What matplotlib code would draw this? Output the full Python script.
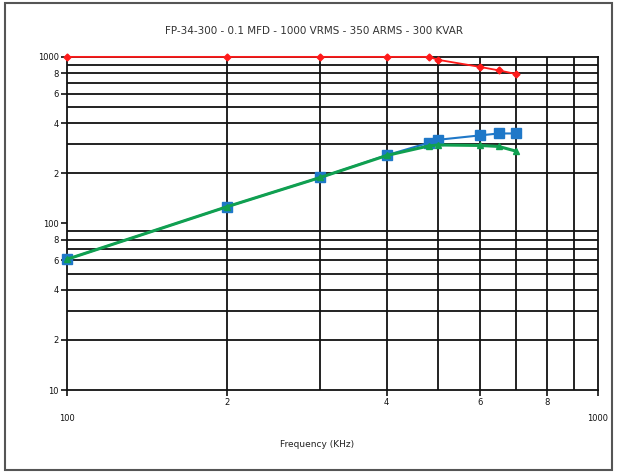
import matplotlib.pyplot as plt
from matplotlib.patches import Rectangle

# data (frequency in KHz)
freq = [100, 200, 300, 400, 480, 500, 600, 650, 700]
red_vals = [1000, 1000, 1000, 1000, 1000, 960, 870, 830, 790]
blue_vals = [61, 126, 189, 257, 305, 318, 338, 347, 347]
green_vals = [61, 126, 189, 256, 292, 296, 294, 290, 272]

title = 'FP-34-300 - 0.1 MFD - 1000 VRMS - 350 ARMS - 300 KVAR'
xlabel = 'Frequency (KHz)'

# gridlines and labelled ticks
x_grid = [200, 300, 400, 500, 600, 700, 800, 900]
y_grid = [20, 30, 40, 50, 60, 70, 80, 90, 200, 300, 400, 500, 600, 700, 800, 900]
y_ticks = [10, 20, 40, 60, 80, 100, 200, 400, 600, 800, 1000]
y_ticklabels = ['10', '2', '4', '6', '8', '100', '2', '4', '6', '8', '1000']
x_major = [100, 1000]
x_major_labels = ['100', '1000']
x_minor = [200, 400, 600, 800]
x_minor_labels = ['2', '4', '6', '8']

fig = plt.figure(figsize=(6.21, 4.74), dpi=100)
ax = fig.add_axes([0.108, 0.177, 0.855, 0.703])
ax.set_xscale('log')
ax.set_yscale('log')
ax.set_xlim(100, 1000)
ax.set_ylim(10, 1000)

for y in y_grid:
    ax.axhline(y, color='#111111', lw=1.3, zorder=1)
for x in x_grid:
    ax.axvline(x, color='#111111', lw=1.3, zorder=1)

ax.plot(freq, red_vals, color='#ff1a1a', lw=1.3, marker='D', ms=3.5, zorder=4, clip_on=False)
ax.plot(freq, blue_vals, color='#1f78c8', lw=1.5, marker='s', ms=7, zorder=3, clip_on=False)
ax.plot(freq, green_vals, color='#10a050', lw=2.2, marker='^', ms=4, zorder=5, clip_on=False)

for s in ax.spines.values():
    s.set_color('#111111')
    s.set_linewidth(1.3)

ax.yaxis.set_major_locator(plt.FixedLocator(y_ticks))
ax.yaxis.set_major_formatter(plt.FixedFormatter(y_ticklabels))
ax.yaxis.set_minor_locator(plt.NullLocator())
ax.xaxis.set_major_locator(plt.FixedLocator(x_major))
ax.xaxis.set_major_formatter(plt.FixedFormatter(x_major_labels))
ax.xaxis.set_minor_locator(plt.FixedLocator(x_minor))
ax.xaxis.set_minor_formatter(plt.FixedFormatter(x_minor_labels))

ax.tick_params(axis='y', which='major', length=4, width=1.2, labelsize=6, pad=2, colors='#111111')
ax.tick_params(axis='x', which='major', length=4, width=1.2, labelsize=6, pad=13, colors='#111111')
ax.tick_params(axis='x', which='minor', length=4, width=1.2, labelsize=6, pad=2, colors='#111111')

ax.set_xlabel(xlabel, fontsize=6.5, color='#222222')
ax.xaxis.set_label_coords(0.47, -0.15)
fig.text(0.505, 0.935, title, ha='center', va='center', fontsize=7.5, color='#333333')

fig.patches.append(Rectangle((0.008, 0.008), 0.978, 0.985, transform=fig.transFigure,
                             fill=False, edgecolor='#555555', lw=1.5))

fig.savefig('out.png', dpi=100)
